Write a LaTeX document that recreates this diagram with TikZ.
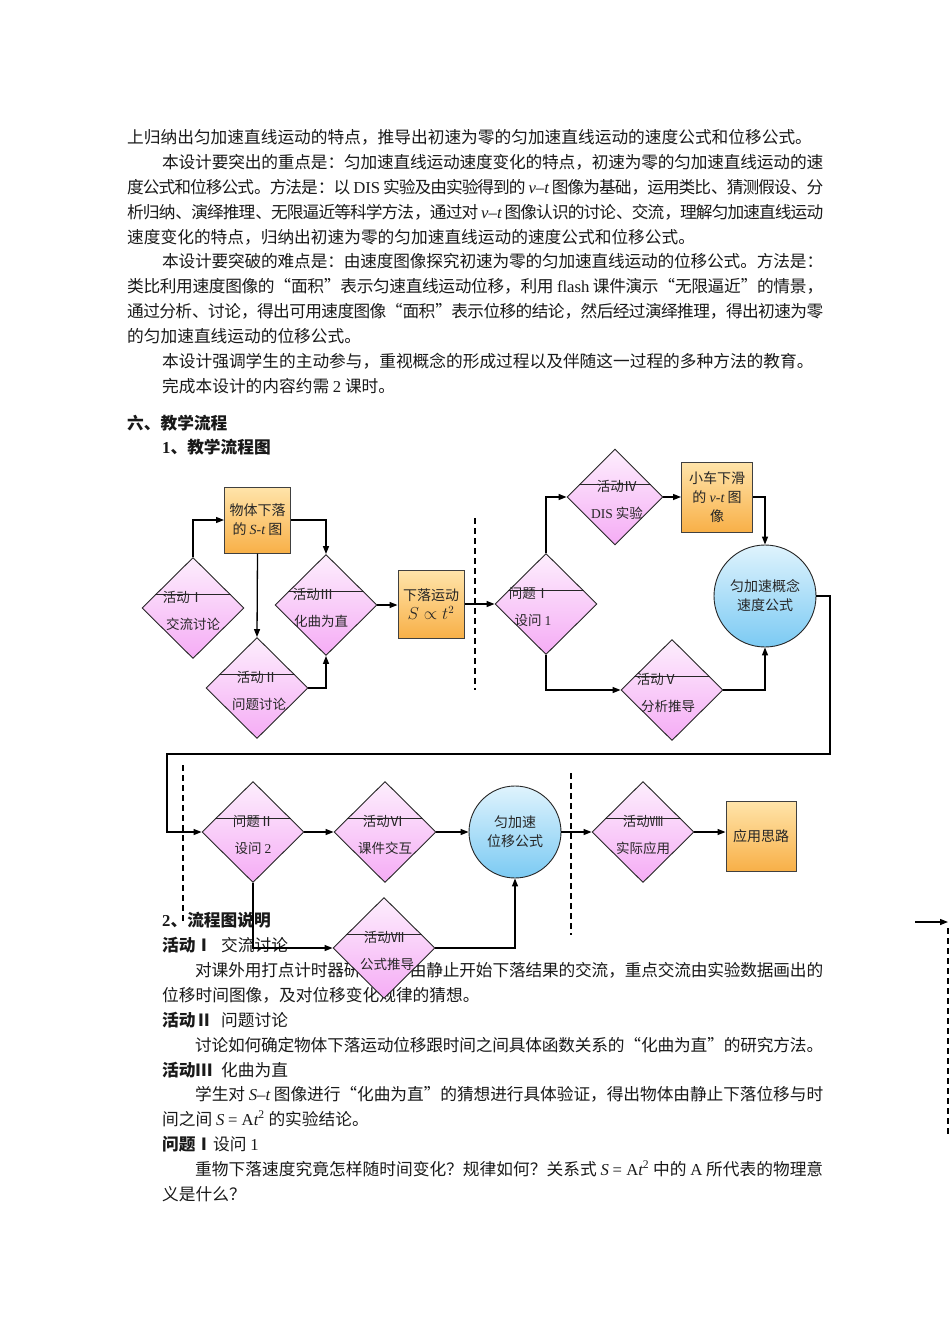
\documentclass[tikz,border=0pt]{standalone}
\usepackage{fontspec}
\setmainfont{Noto Sans CJK SC}
\newfontfamily\tnr{Liberation Serif}
\usetikzlibrary{calc,shapes.geometric,arrows.meta}
\XeTeXlinebreaklocale "zh"
\XeTeXlinebreakskip=0pt plus 4pt minus 1.5pt

\definecolor{diatop}{HTML}{FDEEFD}
\definecolor{diabot}{HTML}{F5ACF5}
\definecolor{boxtop}{HTML}{FFE4AA}
\definecolor{boxbot}{HTML}{F8B048}
\definecolor{balltop}{HTML}{DFF3FD}
\definecolor{ballbot}{HTML}{7BCAF3}

\tikzset{
	txt/.style={anchor=base west,inner sep=0pt,font=\fontsize{16.7}{20}\selectfont,text=black!90},
	dia/.style={diamond,draw=black!85,line width=0.9pt,minimum width=102pt,minimum height=101pt,inner sep=0pt,top color=diatop,bottom color=diabot},
	ybox/.style={rectangle,draw=black!75,line width=1pt,top color=boxtop,bottom color=boxbot,inner sep=1pt,align=center,text=black!85,font=\fontsize{14}{19}\selectfont},
	ball/.style={circle,draw=black!85,line width=0.9pt,top color=balltop,bottom color=ballbot,inner sep=0pt,align=center,text=black!85,font=\fontsize{14}{19}\selectfont},
	lbl/.style={inner sep=0pt,text=black!85,font=\fontsize{13.5}{16}\selectfont},
	chord/.style={line width=1pt,black!85},
	arr/.style={line width=1.3pt,-{Triangle[length=8pt,width=6pt]}},
	cutline/.style={line width=1.4pt,dash pattern=on 6pt off 4pt}
}
\def\jl#1#2{\parbox[b]{#1}{\tolerance=9999\parfillskip=0pt\relax #2}}
\def\lt#1{{\tnr #1}}
\def\vi#1{{\tnr\itshape #1}}
\def\flowdia[#1](#2)(#3,#4)#5#6#7#8{%
	\node[dia,#1] (#2) at (#3,#4) {};
	\draw[chord] ($(#2.west)!0.26!(#2.north)$) -- ($(#2.east)!0.26!(#2.north)$);
	\node[lbl] (#2-u) at ($(#2.center)+(#7,-11)$) {#5};
	\node[lbl] (#2-l) at ($(#2.center)+(#8,16)$) {#6};
}

\begin{document}
\begin{tikzpicture}[x=1pt,y=-1pt]
	%%%%% START %%%%%
	\fill[white] (0,0) rectangle (950,1344);
	
	% text above
	\node[txt] (p1) at (127,143) {上归纳出匀加速直线运动的特点，推导出初速为零的匀加速直线运动的速度公式和位移公式。};
	\node[txt] (p2) at (162,168) {\jl{661pt}{本设计要突出的重点是：匀加速直线运动速度变化的特点，初速为零的匀加速直线运动的速}};
	\node[txt] (p3) at (127,193) {\jl{696pt}{度公式和位移公式。方法是：以 \lt{DIS} 实验及由实验得到的 \vi{v}\lt{–}\vi{t} 图像为基础，运用类比、猜测假设、分}};
	\node[txt] (p4) at (127,218) {\jl{696pt}{析归纳、演绎推理、无限逼近等科学方法，通过对 \vi{v}\lt{–}\vi{t} 图像认识的讨论、交流，理解匀加速直线运动}};
	\node[txt] (p5) at (127,243) {速度变化的特点，归纳出初速为零的匀加速直线运动的速度公式和位移公式。};
	\node[txt] (p6) at (162,267) {\jl{661pt}{本设计要突破的难点是：由速度图像探究初速为零的匀加速直线运动的位移公式。方法是：}};
	\node[txt] (p7) at (127,292) {\jl{696pt}{类比利用速度图像的“面积”表示匀速直线运动位移，利用 \lt{flash} 课件演示“无限逼近”的情景，}};
	\node[txt] (p8) at (127,317) {\jl{696pt}{通过分析、讨论，得出可用速度图像“面积”表示位移的结论，然后经过演绎推理，得出初速为零}};
	\node[txt] (p9) at (127,342) {的匀加速直线运动的位移公式。};
	\node[txt] (p10) at (162,367) {本设计强调学生的主动参与，重视概念的形成过程以及伴随这一过程的多种方法的教育。};
	\node[txt] (p11) at (162,392) {完成本设计的内容约需 \lt{2} 课时。};
	\node[txt,font=\fontsize{16.7}{20}\selectfont\bfseries] (h1) at (127,429) {六、教学流程};
	\node[txt,font=\fontsize{16.7}{20}\selectfont\bfseries] (h2) at (162,453) {\lt{\bfseries 1}、教学流程图};
	
	% text below
	\node[txt,font=\fontsize{16.7}{20}\selectfont\bfseries] (h3) at (162,926) {\lt{\bfseries 2}、流程图说明};
	\node[txt] (s1) at (162,951) {\makebox[59pt][l]{\bfseries 活动Ⅰ}交流讨论};
	\node[txt] (s2) at (195,976) {\jl{628pt}{对课外用打点计时器研究物体由静止开始下落结果的交流，重点交流由实验数据画出的}};
	\node[txt] (s3) at (162,1001) {位移时间图像，及对位移变化规律的猜想。};
	\node[txt] (s4) at (162,1026) {\makebox[59pt][l]{\bfseries 活动Ⅱ}问题讨论};
	\node[txt] (s5) at (195,1051) {\jl{628pt}{讨论如何确定物体下落运动位移跟时间之间具体函数关系的“化曲为直”的研究方法。}};
	\node[txt] (s6) at (162,1076) {\makebox[59pt][l]{\bfseries 活动Ⅲ}化曲为直};
	\node[txt] (s7) at (195,1100) {\jl{628pt}{学生对 \vi{S}\lt{–}\vi{t} 图像进行“化曲为直”的猜想进行具体验证，得出物体由静止下落位移与时}};
	\node[txt] (s8) at (162,1125) {间之间 \vi{S} \lt{= A}\vi{t}\lt{\textsuperscript{2}} 的实验结论。};
	\node[txt] (s9) at (162,1150) {\makebox[51pt][l]{\bfseries 问题Ⅰ}设问 \lt{1}};
	\node[txt] (s10) at (195,1175) {\jl{628pt}{重物下落速度究竟怎样随时间变化？规律如何？关系式 \vi{S} \lt{= A}\vi{t}\lt{\textsuperscript{2}} 中的 \lt{A} 所代表的物理意}};
	\node[txt] (s11) at (162,1200) {义是什么？};
	
	% flow chart, first row
	\flowdia[](d1)(193,608){活动Ⅰ}{交流讨论}{-10}{0};
	\node[ybox,minimum width=66pt,minimum height=66pt] (b1) at (257.5,520) {物体下落\\的 \vi{S}\lt{-}\vi{t} 图};
	\flowdia[](d2)(257,688){活动Ⅱ}{问题讨论}{0}{2};
	\flowdia[](d3)(326,605){活动Ⅲ}{化曲为直}{-13}{-5};
	\node[ybox,minimum width=66pt,minimum height=68pt] (b2) at (431,604) {下落运动\\{\fontsize{16}{19}\selectfont$S\propto t^2$}};
	\flowdia[](q1)(546,604){问题Ⅰ}{设问 \lt{1}}{-17}{-13};
	\flowdia[minimum width=96pt,minimum height=96pt](d4)(615,497){活动Ⅳ}{\lt{DIS} 实验}{2}{2};
	\node[ybox,minimum width=71pt,minimum height=70pt] (b3) at (717,497) {小车下滑\\的 \vi{v}\lt{-}\vi{t} 图\\像};
	\node[ball,minimum size=102pt] (c1) at (765,596) {匀加速概念\\速度公式};
	\flowdia[](d5)(672,690){活动Ⅴ}{分析推导}{-15}{-4};
	
	\draw[arr] (d1.north) |- (b1.west);
	\draw[arr] (b1.south) -- (d2.north);
	\draw[arr] (b1.east) -| (d3.north);
	\draw[arr] (d2.east) -| (d3.south);
	\draw[arr] (d3.east) -- (d3.east -| b2.west);
	\draw[arr] (b2.east) -- (q1.west);
	\draw[arr] (q1.north) |- (d4.west);
	\draw[arr] (d4.east) -- (b3.west);
	\draw[arr] (b3.east) -| (c1.north);
	\draw[arr] (q1.south) |- (d5.west);
	\draw[arr] (d5.east) -| (c1.south);
	
	% flow chart, second row
	\flowdia[](q2)(253,832){问题Ⅱ}{设问 \lt{2}}{0}{0};
	\flowdia[](d6)(385,832){活动Ⅵ}{课件交互}{-2}{0};
	\node[ball,minimum size=92pt] (c2) at (515,832) {匀加速\\位移公式};
	\flowdia[](d8)(643,832){活动Ⅷ}{实际应用}{0}{0};
	\node[ybox,minimum width=70pt,minimum height=70pt] (b4) at (761,836) {应用思路};
	\flowdia[](d7)(384,948){活动Ⅶ}{公式推导}{0}{3};
	
	\coordinate (k1) at (830,754);
	\coordinate (k2) at (167,754);
	\draw[arr] (c1.east) -| (k1) -- (k2) |- (q2.west);
	\draw[arr] (q2.east) -- (d6.west);
	\draw[arr] (d6.east) -- (c2.west);
	\draw[arr] (c2.east) -- (d8.west);
	\draw[arr] (d8.east) -- (d8.east -| b4.west);
	\draw[arr] (q2.south) |- (d7.west);
	\draw[arr] (d7.east) -| (c2.south);
	
	% dashed separators
	\draw[cutline] (475,518) -- (475,690);
	\draw[cutline] (183,765) -- (183,923);
	\draw[cutline] (571,773) -- (571,935);
	\draw[cutline] (948,928) -- (948,1135);
	\coordinate (e1) at (915,922);
	\coordinate (e2) at (948,922);
	\draw[arr] (e1) -- (e2);
	%%%%% END %%%%%
\end{tikzpicture}
\end{document}
